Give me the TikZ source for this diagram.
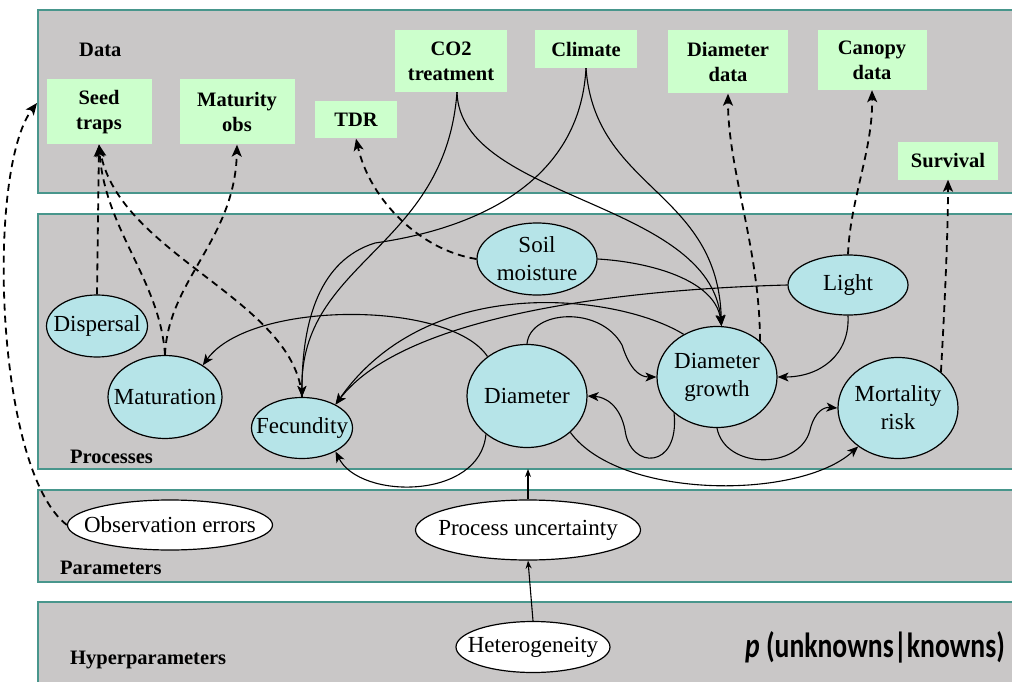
\documentclass[tikz,border=0pt]{standalone}
\usepackage{fontspec}
\setmainfont{Liberation Serif}
\newfontfamily\calib{Carlito}
\usetikzlibrary{arrows.meta,shapes.geometric}
\definecolor{panelgray}{RGB}{201,199,199}
\definecolor{tealline}{RGB}{72,150,140}
\definecolor{datagreen}{RGB}{204,255,204}
\definecolor{proccyan}{RGB}{182,228,232}
\begin{document}
\begin{tikzpicture}[x=1pt,y=-1pt,
  panel/.style={fill=panelgray, draw=tealline, line width=1.8pt},
  databox/.style={fill=datagreen, align=center, inner sep=0pt, font=\fontsize{20.5}{25}\selectfont\bfseries},
  proc/.style={ellipse, draw=black, fill=proccyan, line width=1.2pt, inner sep=0pt},
  param/.style={ellipse, draw=black, fill=white, line width=1.2pt, inner sep=0pt},
  ptext/.style={align=center, inner sep=0pt, font=\fontsize{23}{28}\selectfont},
  lbl/.style={anchor=west, inner sep=0pt, font=\fontsize{20.5}{24}\selectfont\bfseries},
  link/.style={line width=1.1pt, -{Stealth[length=11pt,width=9pt,inset=3pt]}},
  obslink/.style={line width=1.8pt, dash pattern=on 7pt off 5pt, -{Stealth[length=12pt,width=10pt,inset=3pt]}},
  smallarrow/.style={line width=1.1pt, -{Stealth[length=8pt,width=6pt]}}]
\useasboundingbox (0,0) rectangle (1012,682);
% panels
\path[panel] (38,10) rectangle (1030,193);
\path[panel] (38,214) rectangle (1030,469);
\path[panel] (38,490) rectangle (1030,582);
\path[panel] (38,602) rectangle (1030,700);
\node[lbl] (datalbl) at (79,50) {Data};
\node[lbl] (proclbl) at (70,457) {Processes};
\node[lbl] (paramlbl) at (60,568) {Parameters};
\node[lbl] (hyperlbl) at (70,660) {Hyperparameters};
% data boxes
\node[databox, minimum width=105pt, minimum height=65pt] (seed) at (99,112) {Seed\\traps};
\node[databox, minimum width=115pt, minimum height=65pt] (matobs) at (237,112) {Maturity\\obs};
\node[databox, minimum width=82pt, minimum height=37pt] (tdr) at (356,120) {TDR};
\node[databox, minimum width=112pt, minimum height=62pt] (co2) at (451,61) {CO2\\treatment};
\node[databox, minimum width=102pt, minimum height=38pt] (climate) at (586,49) {Climate};
\node[databox, minimum width=120pt, minimum height=63pt] (diamdata) at (728,62) {Diameter\\data};
\node[databox, minimum width=109pt, minimum height=60pt] (canopy) at (872,60) {Canopy\\data};
\node[databox, minimum width=100pt, minimum height=37pt] (survival) at (948,161) {Survival};
% process ellipses
\node[proc, minimum width=101pt, minimum height=62pt] (disp) at (97,326) {};
\node[ptext] (dispT) at (disp) {Dispersal};
\node[proc, minimum width=114pt, minimum height=83pt] (matur) at (165,397) {};
\node[ptext] (maturT) at (matur) {Maturation};
\node[proc, minimum width=101pt, minimum height=61pt] (fec) at (302,428) {};
\node[ptext] (fecT) at (fec) {Fecundity};
\node[proc, minimum width=120pt, minimum height=72pt] (soil) at (537,259) {};
\node[ptext] (soilT) at (soil) {Soil\\moisture};
\node[proc, minimum width=120pt, minimum height=60pt] (light) at (848,285) {};
\node[ptext] (lightT) at (light) {Light};
\node[proc, minimum width=120pt, minimum height=101pt] (dg) at (717,377) {};
\node[ptext] (dgT) at (dg) {Diameter\\growth};
\node[proc, minimum width=120pt, minimum height=103pt] (diam) at (527,396) {};
\node[ptext] (diamT) at (diam) {Diameter};
\node[proc, minimum width=120pt, minimum height=101pt] (mort) at (898,408) {};
\node[ptext] (mortT) at (mort) {Mortality\\risk};
% parameters
\node[param, minimum width=205pt, minimum height=50pt] (obs) at (170,525) {};
\node[ptext] (obsT) at (obs) {Observation errors};
\node[param, minimum width=225pt, minimum height=60pt] (procunc) at (528,530) {};
\node[ptext] (procuncT) at (procunc) {Process uncertainty};
\node[param, minimum width=154pt, minimum height=51pt] (het) at (533,647) {};
\node[ptext] (hetT) at (het) {Heterogeneity};
\node[anchor=base west, inner sep=0pt] (formula) at (745,657)
  {\scalebox{0.79}[1]{\fontsize{35}{40}\calib\bfseries\textit{p} (unknowns|knowns)}};
\coordinate (dataedge) at (37,103);
\coordinate (proctop) at (528,469);
% dashed observation links
\draw[obslink] (disp.north) -- (seed.south);
\draw[obslink] (matur.north) .. controls (160,280) and (105,230) .. (seed.south);
\draw[obslink] (matur.north) .. controls (168,280) and (235,240) .. (matobs.south);
\draw[obslink] (fec.north) .. controls (295,300) and (120,255) .. (seed.south);
\draw[obslink] (soil.west) .. controls (420,250) and (370,200) .. (tdr.south);
\draw[obslink] (dg.40) .. controls (760,250) and (728,170) .. (diamdata.south);
\draw[obslink] (light.north) .. controls (850,200) and (873,150) .. (canopy.south);
\draw[obslink] (mort.40) .. controls (945,300) and (948,230) .. (survival.south);
\draw[obslink] (obs.west) .. controls (-5,470) and (-14,170) .. (dataedge);
% solid process links
\draw[link] ([xshift=6pt]co2.south) .. controls (445,250) and (300,260) .. (fec.north);
\draw[link] (climate.south) .. controls (580,180) and (480,228) .. (375,243) .. controls (320,260) and (302,320) .. (fec.north);
\draw[link] ([xshift=6pt]co2.south) .. controls (460,200) and (710,200) .. (dg.85);
\draw[link] (climate.south) .. controls (595,190) and (718,190) .. (dg.85);
\draw[link] (soil.east) .. controls (650,262) and (715,280) .. (dg.85);
\draw[link] (light.west) .. controls (600,290) and (400,320) .. (fec.35);
\draw[link] (dg.128) .. controls (620,295) and (430,270) .. (fec.35);
\draw[link] (diam.135) .. controls (450,300) and (250,300) .. (matur.40);
\draw[link] (diam.-137) .. controls (480,500) and (360,500) .. (fec.-35);
\draw[link] (diam.north) .. controls (530,310) and (600,305) .. (622,345) .. controls (630,370) and (640,377) .. (dg.west);
\draw[link] (dg.-140) .. controls (680,470) and (630,470) .. (625,430) .. controls (620,405) and (605,397) .. (diam.east);
\draw[link] (dg.south) .. controls (725,470) and (800,470) .. (810,430) .. controls (815,410) and (825,407) .. (mort.west);
\draw[link] (diam.-40) .. controls (620,500) and (800,500) .. (mort.-136);
\draw[link] (light.south) .. controls (850,355) and (820,377) .. (dg.east);
% parameter links
\draw[smallarrow] (procunc.north) -- (proctop);
\draw[smallarrow] (het.north) -- (procunc.south);
\end{tikzpicture}
\end{document}
